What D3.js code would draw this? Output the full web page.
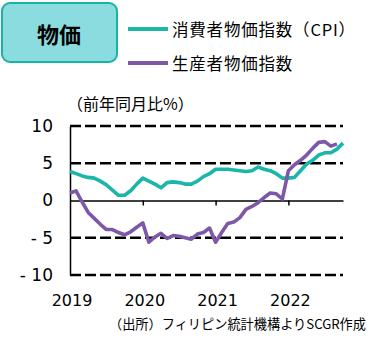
<!DOCTYPE html>
<html>
<head>
<meta charset="utf-8">
<script src="https://cdn.jsdelivr.net/npm/d3@7.9.0/dist/d3.min.js"></script>
<style>
  body { margin: 0; background: #fff; }
  svg { display: block; }
  text { font-family: "Noto Sans CJK JP", "DejaVu Sans", sans-serif; fill: #000; }
</style>
</head>
<body>
<svg id="chart" width="385" height="340"></svg>
<script>
// monthly, Jan 2019 .. Oct 2022 (year on year %)
const cpi = [3.9, 3.6, 3.3, 3.1, 3.0, 2.6, 2.1, 1.4, 0.7, 0.7, 1.3, 2.2,
             3.0, 2.6, 2.2, 1.7, 2.4, 2.5, 2.4, 2.2, 2.2, 2.6, 3.2, 3.6,
             4.2, 4.2, 4.2, 4.1, 4.0, 3.9, 4.0, 4.5, 4.2, 4.0, 3.6, 3.0,
             3.0, 3.1, 4.0, 4.9, 5.4, 6.1, 6.4, 6.4, 6.9, 7.7];
const ppi = [1.0, 1.3, -0.2, -1.6, -2.4, -3.2, -3.9, -3.9, -4.3, -4.6, -4.2, -3.6,
             -3.0, -5.6, -4.9, -4.4, -5.1, -4.7, -4.8, -5.0, -5.2, -4.5, -4.3, -3.7,
             -5.6, -4.3, -3.1, -2.9, -2.3, -1.2, -0.8, -0.3, 0.4, 1.0, 0.9, 0.2,
             4.0, 4.8, 5.4, 6.1, 7.0, 7.8, 7.9, 7.3, 7.6];
const years = ["2019", "2020", "2021", "2022"];
const yTicks = [10, 5, 0, -5, -10];
const seriesNames = ["消費者物価指数（CPI）", "生産者物価指数"];
const colors = ["#1ab6a9", "#7e58a8"];

const svg = d3.select("#chart");

const x = d3.scaleLinear().domain([0, 45]).range([70, 343]);
const y = d3.scaleLinear().domain([-10, 10]).range([275, 126]);

// title box
svg.append("rect")
  .attr("x", 2).attr("y", 3).attr("width", 115).attr("height", 59)
  .attr("rx", 8)
  .attr("fill", "#8adcde").attr("stroke", "#17b3a6").attr("stroke-width", 2);
svg.append("text")
  .attr("x", 59).attr("y", 33)
  .attr("text-anchor", "middle").attr("dominant-baseline", "central")
  .style("font-size", "22px").style("font-weight", "bold")
  .text("物価");

// legend
seriesNames.forEach((name, i) => {
  let ly = i === 0 ? 29 : 63;
  svg.append("line")
    .attr("x1", 128).attr("x2", 168).attr("y1", ly).attr("y2", ly)
    .attr("stroke", colors[i]).attr("stroke-width", 4);
  svg.append("text")
    .attr("x", 172).attr("y", ly)
    .attr("dominant-baseline", "central")
    .style("font-size", "16.5px").style("letter-spacing", "0.8px")
    .text(name);
});

// unit label
svg.append("text")
  .attr("x", 67).attr("y", 103)
  .attr("dominant-baseline", "central")
  .style("font-size", "16px")
  .text("（前年同月比%）");

// dashed grid
svg.selectAll(".grid")
  .data(yTicks.filter(d => d !== 0))
  .enter()
  .append("line")
  .attr("x1", 70).attr("x2", 343)
  .attr("y1", d => y(d)).attr("y2", d => y(d))
  .attr("stroke", "#000").attr("stroke-width", 2.5)
  .attr("stroke-dasharray", "11,4");

// y axis
const yAxis = svg.append("g")
  .attr("transform", "translate(70,0)")
  .call(d3.axisLeft(y).tickValues(yTicks).tickSize(0).tickPadding(17)
    .tickFormat(d => d < 0 ? "- " + Math.abs(d) : d));
yAxis.select(".domain").attr("stroke", "#000").attr("stroke-width", 1.5);
yAxis.selectAll("text")
  .style("font-family", "DejaVu Sans, sans-serif").style("font-size", "17px");

// zero line with year ticks
const xAxis = svg.append("g")
  .attr("transform", `translate(0,${y(0)})`)
  .call(d3.axisBottom(x).tickValues([12, 24, 36]).tickSize(5).tickSizeOuter(0).tickFormat(""));
xAxis.select(".domain").attr("stroke", "#000").attr("stroke-width", 1.5);
xAxis.selectAll(".tick line").attr("stroke", "#000").attr("stroke-width", 1.5);

// year labels
svg.selectAll(".year")
  .data(years)
  .enter()
  .append("text")
  .attr("x", (d, i) => x(i * 12) + 2)
  .attr("y", 306)
  .attr("text-anchor", "middle")
  .style("font-family", "DejaVu Sans, sans-serif").style("font-size", "16px")
  .text(d => d);

// lines
const line = d3.line().x((d, i) => x(i)).y(d => y(d));
[cpi, ppi].forEach((s, i) => {
  svg.append("path")
    .datum(s)
    .attr("d", line)
    .attr("fill", "none")
    .attr("stroke", colors[i])
    .attr("stroke-width", 3.6)
    .attr("stroke-linejoin", "round");
});

// source
svg.append("text")
  .attr("x", 109).attr("y", 323)
  .attr("dominant-baseline", "central")
  .style("font-size", "13.2px")
  .text("（出所）フィリピン統計機構よりSCGR作成");
</script>
</body>
</html>
